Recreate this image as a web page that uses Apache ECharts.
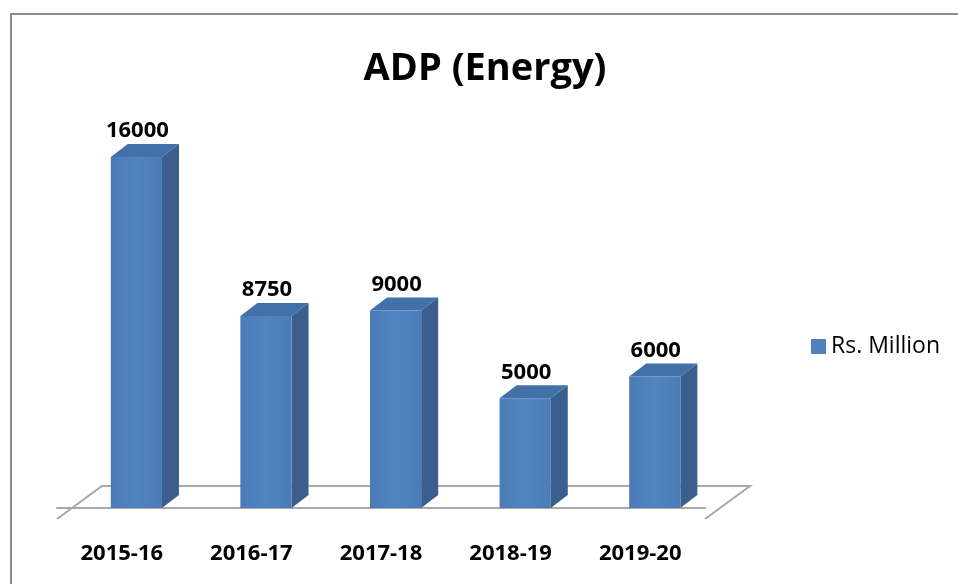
<!DOCTYPE html>
<html lang="en">
<head>
<meta charset="UTF-8">
<script src="https://cdn.jsdelivr.net/npm/echarts/dist/echarts.min.js"></script>
<title>ADP (Energy)</title>
<style>
    html, body { margin: 0; padding: 0; background: #fff; }
    #chart { width: 958px; height: 584px; }
</style>
</head>
<body>
<div id="chart"></div>
<script>
const years = ['2015-16', '2016-17', '2017-18', '2018-19', '2019-20'];
const rsMillion = [16000, 8750, 9000, 5000, 6000];
const seriesName = 'Rs. Million';

const chart = echarts.init(document.getElementById('chart'));

// depth of the fake 3D bars and floor, in pixels
const barDx = 17, barDy = -13;
const floorDx = 45, floorDy = -33;

function renderBar(params, api) {
    const i = api.value(0);
    const v = api.value(1);
    const band = api.size([1, 0])[0];
    const top = api.coord([i, v]);
    const base = api.coord([i, 0]);
    const x0 = top[0] - band * 0.085;
    const x1 = x0 + band * 0.395;
    const yt = top[1], yb = base[1];
    return {
        type: 'group',
        children: [
            {
                type: 'polygon',
                shape: { points: [[x1, yt], [x1 + barDx, yt + barDy], [x1 + barDx, yb + barDy], [x1, yb]] },
                style: { fill: '#3a5f8e' }
            },
            {
                type: 'polygon',
                shape: { points: [[x0, yt], [x0 + barDx, yt + barDy], [x1 + barDx, yt + barDy], [x1, yt]] },
                style: { fill: '#4270a8' }
            },
            {
                type: 'rect',
                shape: { x: x0, y: yt, width: x1 - x0, height: yb - yt },
                style: {
                    fill: new echarts.graphic.LinearGradient(0, 0, 1, 0, [
                        { offset: 0, color: '#4a7bb7' },
                        { offset: 0.5, color: '#5085c2' },
                        { offset: 1, color: '#4a7bb6' }
                    ])
                }
            },
            {
                type: 'text',
                style: {
                    text: String(rsMillion[i]),
                    x: (x0 + x1) / 2 + 1,
                    y: yt - 26,
                    align: 'center',
                    verticalAlign: 'middle',
                    font: 'bold 22px "Open Sans", sans-serif',
                    fill: '#000'
                }
            }
        ]
    };
}

function renderFloor(params, api) {
    const band = api.size([1, 0])[0];
    const first = api.coord([0, -500]);
    const last = api.coord([years.length - 1, -500]);
    const xl = first[0] - band / 2, xr = last[0] + band / 2, y = first[1];
    return {
        type: 'polyline',
        shape: { points: [[xl, y], [xl + floorDx, y + floorDy], [xr + floorDx, y + floorDy], [xr, y]] },
        style: { stroke: '#a8a8a8', lineWidth: 2, fill: 'none' },
        silent: true
    };
}

const option = {
    animation: false,
    title: {
        text: 'ADP (Energy)',
        left: 485,
        top: 50,
        padding: 0,
        textAlign: 'center',
        textStyle: { fontFamily: 'Open Sans', fontWeight: 'bold', fontSize: 38, color: '#000' }
    },
    legend: {
        data: [seriesName],
        left: 811,
        top: 335,
        padding: 0,
        icon: 'rect',
        itemWidth: 15,
        itemHeight: 15,
        textStyle: { fontFamily: 'Open Sans', fontSize: 23, color: '#000' }
    },
    grid: { left: 57, right: 253, top: 157, bottom: 65 },
    xAxis: {
        type: 'category',
        data: years,
        axisLine: { lineStyle: { color: '#a8a8a8', width: 2 } },
        axisTick: { length: 8, lineStyle: { color: '#a8a8a8', width: 2 } },
        axisLabel: {
            margin: 24,
            fontFamily: 'Open Sans',
            fontWeight: 'bold',
            fontSize: 22,
            color: '#000'
        }
    },
    yAxis: { type: 'value', min: -500, max: 16000, show: false },
    graphic: [
        {
            type: 'polyline',
            shape: { points: [[11, 584], [11, 14], [958, 14]] },
            style: { stroke: '#8c8c8c', lineWidth: 2, fill: 'none' }
        }
    ],
    series: [
        {
            type: 'custom',
            name: 'floor',
            renderItem: renderFloor,
            data: [[0, 0]],
            z: 1,
            silent: true
        },
        {
            type: 'custom',
            name: seriesName,
            renderItem: renderBar,
            itemStyle: { color: '#4f81bd' },
            encode: { x: 0, y: 1 },
            data: rsMillion.map((v, i) => [i, v]),
            z: 2
        }
    ]
};

chart.setOption(option);
</script>
</body>
</html>
